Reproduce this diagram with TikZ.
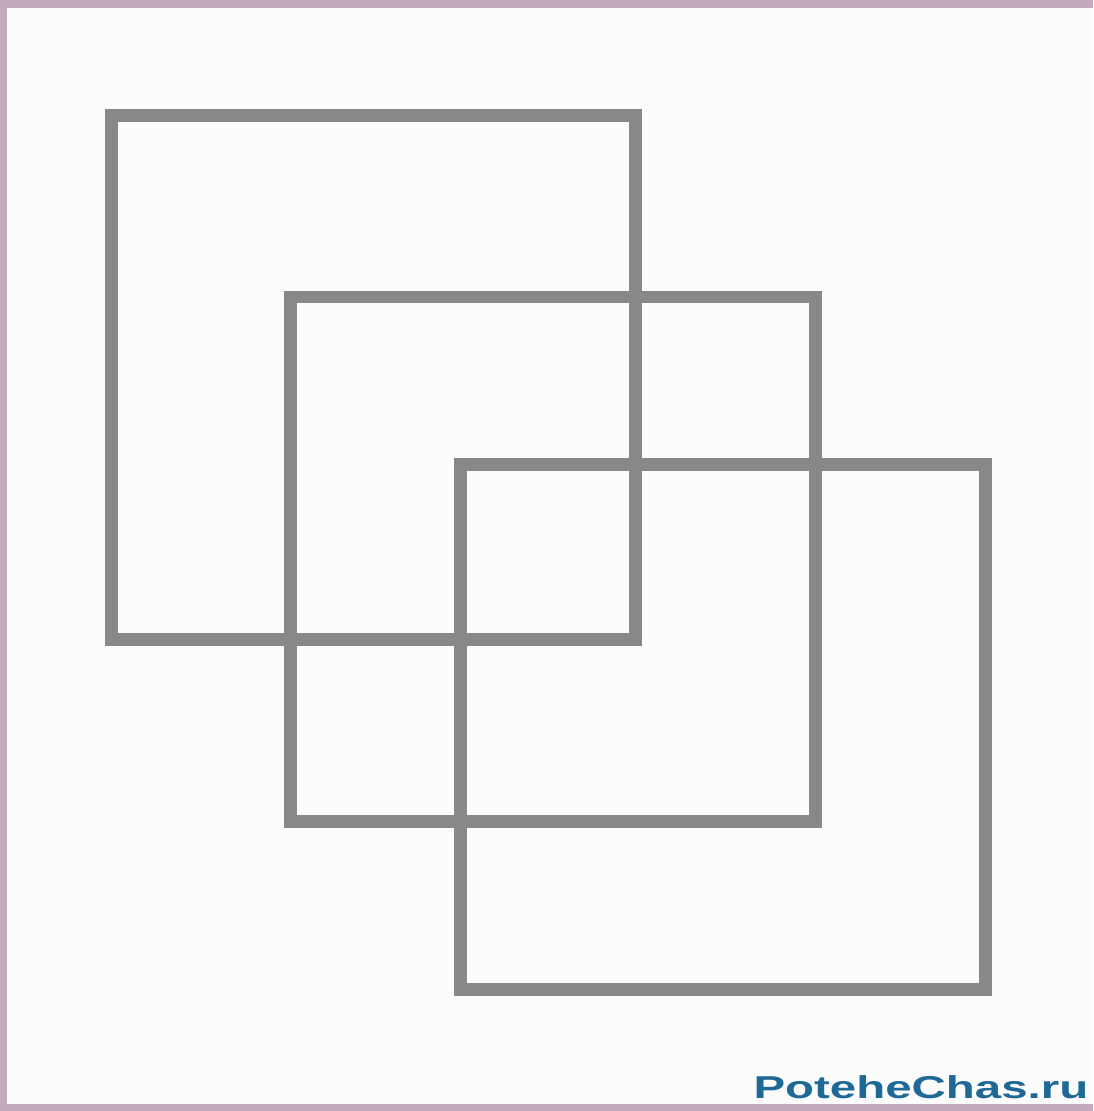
\documentclass[tikz,border=0pt]{standalone}
\usepackage{fontspec}
\newfontfamily\sitefont{Liberation Sans}
\definecolor{frame}{RGB}{196,171,187}
\definecolor{paper}{RGB}{252,252,252}
\definecolor{sqgray}{RGB}{136,136,136}
\definecolor{site}{RGB}{30,105,150}

\begin{document}
\begin{tikzpicture}[
        x=0.02cm, y=-0.02cm,
        sq/.style={draw=sqgray, line width=0.26cm, line join=miter},
        mark label/.style={font=\sitefont\bfseries\fontsize{18}{20}\selectfont,
                      text=site, inner sep=0pt, anchor=base west, xscale=1.5}
    ]
        \useasboundingbox (0,0) rectangle (1093,1111);
        \fill[frame] (0,0) rectangle (1093,1111);
        \fill[paper] (7,8) rectangle (1093,1104);

        \draw[sq] (111,116) rectangle (635,639);
        \draw[sq] (290,297) rectangle (815,821);
        \draw[sq] (460,464) rectangle (985,989);

        \node[mark label] (site) at (753,1098) {PoteheChas.ru};
    \end{tikzpicture}
\end{document}
